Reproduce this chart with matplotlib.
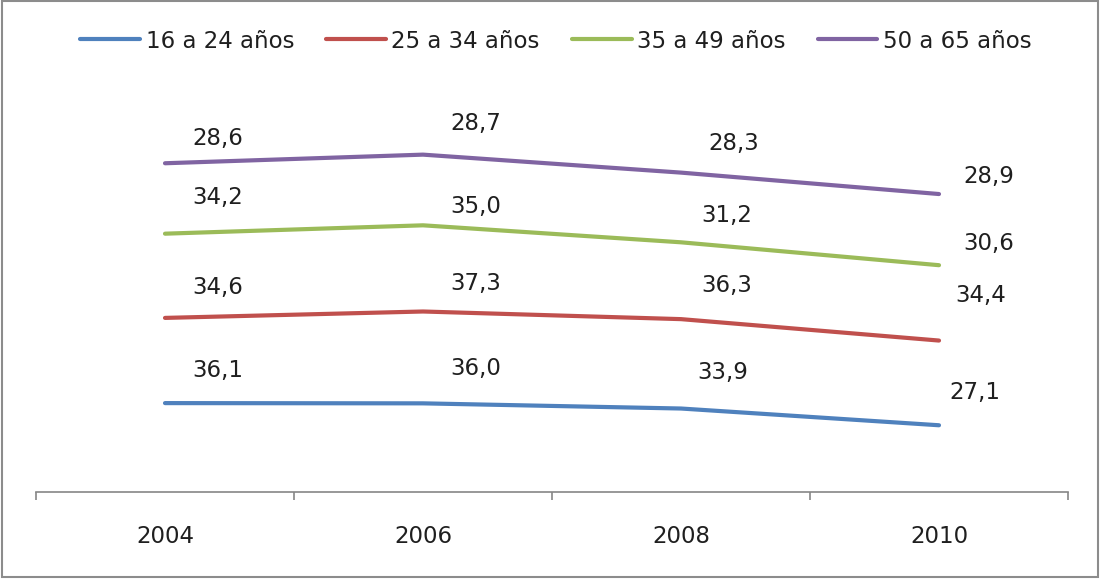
import matplotlib.pyplot as plt
from matplotlib.patches import Rectangle

years = ['2004', '2006', '2008', '2010']
series_names = ['16 a 24 años', '25 a 34 años', '35 a 49 años', '50 a 65 años']
v16_24 = [36.1, 36.0, 33.9, 27.1]
v25_34 = [34.6, 37.3, 36.3, 34.4]
v35_49 = [34.2, 35.0, 31.2, 30.6]
v50_65 = [28.6, 28.7, 28.3, 28.9]
colors = ['#4F81BD', '#C0504D', '#9BBB59', '#8064A2']

# label offsets in pixels (dx, dy) from each point, as placed in the original
label_offsets = [
    [(53, 33), (53, 35), (42, 36), (36, 33)],
    [(53, 30), (53, 28), (46, 34), (42, 45)],
    [(53, 36), (53, 19), (46, 27), (50, 22)],
    [(53, 25), (53, 31), (53, 29), (50, 18)],
]

plt.rcParams['font.family'] = 'DejaVu Sans'
text_color = '#1f1f1f'
fs = 16.5

fig = plt.figure(figsize=(11.01, 5.79), dpi=100)
ax = fig.add_axes([36 / 1101, 87 / 579, 1032 / 1101, 394 / 579])

x = list(range(len(years)))
base = [0.0] * len(years)
all_vals = [v16_24, v25_34, v35_49, v50_65]
for name, vals, c, offs in zip(series_names, all_vals, colors, label_offsets):
    # stacked line chart: each line sits on top of the previous one
    top = [b + v for b, v in zip(base, vals)]
    ax.plot(x, top, color=c, lw=3, label=name, solid_capstyle='round')
    for xi, yi, v, off in zip(x, top, vals, offs):
        ax.annotate(f'{v:.1f}'.replace('.', ','), (xi, yi), xytext=off,
                    textcoords='offset pixels', ha='center', va='center',
                    fontsize=fs, color=text_color)
    base = top

ax.set_xlim(-0.5, 3.5)
ax.set_ylim(0, 160)
ax.set_yticks([])
for s in ['top', 'right', 'left']:
    ax.spines[s].set_visible(False)
ax.spines['bottom'].set_color('#868686')
ax.spines['bottom'].set_linewidth(1.2)

ax.set_xticks([-0.5, 0.5, 1.5, 2.5, 3.5])
ax.set_xticklabels([])
ax.tick_params(axis='x', which='major', direction='out', length=6, width=1.2, color='#868686')
ax.set_xticks(x, minor=True)
ax.set_xticklabels(years, minor=True)
ax.tick_params(axis='x', which='minor', length=0, pad=24, labelsize=fs, labelcolor=text_color)

fig.legend(loc='center', bbox_to_anchor=(0.505, 1 - 41 / 579), ncol=4, frameon=False,
           fontsize=fs, handlelength=2.6, handletextpad=0.25, columnspacing=1.4,
           labelcolor=text_color)

fig.patches.append(Rectangle((0.002, 0.003), 0.995, 0.995, transform=fig.transFigure,
                             fill=False, edgecolor='#8c8c8c', lw=1.5))

fig.savefig('out.png', dpi=100)
